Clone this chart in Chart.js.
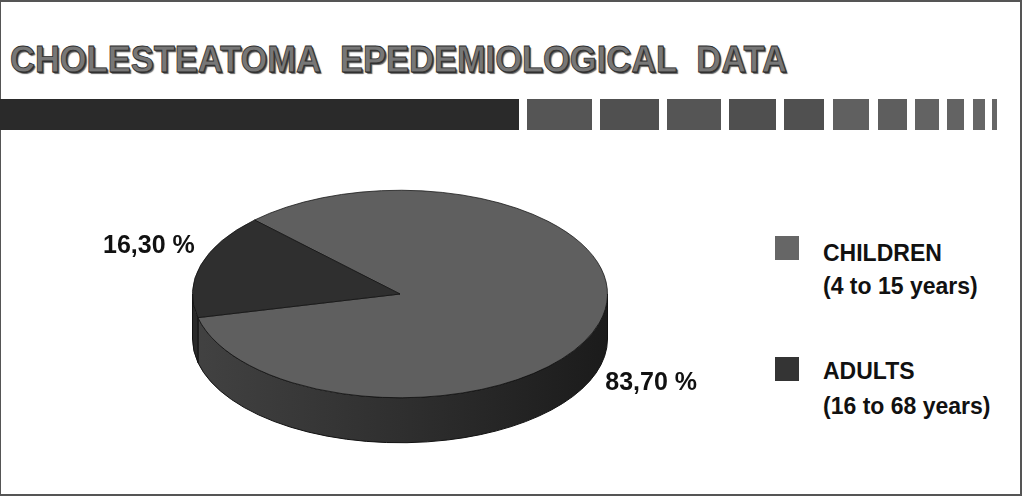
<!DOCTYPE html>
<html>
<head>
<meta charset="utf-8">
<script src="https://cdn.jsdelivr.net/npm/chart.js@4/dist/chart.umd.min.js"></script>
<style>
  body { margin: 0; background: #fff; font-family: "Liberation Sans", Arial, sans-serif; }
  #frame { position: absolute; left: 0; top: 0; width: 1022px; height: 496px; box-sizing: border-box;
           border: 2px solid #555; border-left-width: 1px; border-top-width: 2px; }
  #title { position: absolute; left: 10px; top: 41px; font-size: 37px; line-height: 37px; font-weight: bold;
           color: #777; white-space: nowrap; transform-origin: 0 0;
           -webkit-text-stroke: 0.8px #2e2e2e; text-shadow: 1px 1px 0 #333, 2px 2px 1px #666; }
  .bar { position: absolute; top: 99px; height: 31px; }
  .sw { position: absolute; left: 775px; width: 24px; height: 24px; }
  .lg { position: absolute; left: 823px; font-size: 23px; line-height: 23px; font-weight: bold; color: #111; white-space: nowrap; }
  canvas { position: absolute; left: 0; top: 0; }
</style>
</head>
<body>
<div id="frame"></div>
<div id="title">CHOLESTEATOMA&nbsp; EPEDEMIOLOGICAL&nbsp; DATA</div>
<div id="bars"></div>
<div id="legend"></div>
<canvas id="pie" width="1023" height="497"></canvas>
<script>
const categories = ['CHILDREN', 'ADULTS'];
const ageRanges = ['(4 to 15 years)', '(16 to 68 years)'];
const shares = [83.7, 16.3];
const topColors = ['#5f5f5f', '#2f2f2f'];
const keyColors = ['#666666', '#343434'];

// decorative strip under the title: [left, right, colour]
const barSegments = [
  [0, 519, '#2a2a2a'], [527, 592, '#555'], [600, 659, '#505050'], [667, 721, '#555'],
  [729, 776, '#4f4f4f'], [784, 824, '#505050'], [833, 869, '#606060'], [878, 907, '#5e5e5e'],
  [915, 939, '#636363'], [947, 964, '#636363'], [973, 985, '#666'], [992, 997, '#666']
];

const title = document.getElementById('title');
title.style.transform = 'scaleX(' + (777 / title.offsetWidth) + ')';

const bars = document.getElementById('bars');
barSegments.forEach(s => {
  const d = document.createElement('div');
  d.className = 'bar';
  d.style.left = s[0] + 'px';
  d.style.width = (s[1] - s[0]) + 'px';
  d.style.background = s[2];
  bars.appendChild(d);
});

const legend = document.getElementById('legend');
const swatchTops = [236, 357];
const lineTops = [[242, 275], [360, 395]];
categories.forEach((c, i) => {
  legend.insertAdjacentHTML('beforeend',
    '<div class="sw" style="top:' + swatchTops[i] + 'px;background:' + keyColors[i] + '"></div>' +
    '<div class="lg" style="top:' + lineTops[i][0] + 'px">' + c + '</div>' +
    '<div class="lg" style="top:' + lineTops[i][1] + 'px">' + ageRanges[i] + '</div>');
});

const tilt = 0.5;     // vertical squash of the pie
const depth = 45;     // thickness of the disc
const topY = 294;     // centre of the top face on screen

const pie3d = {
  id: 'pie3d',
  beforeDatasetsDraw(chart) {
    const ctx = chart.ctx;
    const arcs = chart.getDatasetMeta(0).data;
    const cx = arcs[0].x, r = arcs[0].outerRadius, ry = r * tilt;
    const grad = ctx.createLinearGradient(cx - r, 0, cx + r, 0);
    grad.addColorStop(0, '#424242');
    grad.addColorStop(0.5, '#2f2f2f');
    grad.addColorStop(1, '#1b1b1b');
    const sideFill = [grad, '#292929'];
    arcs.forEach((arc, i) => {
      for (let k = -2; k <= 2; k++) {
        const lo = Math.max(arc.startAngle, k * 2 * Math.PI);
        const hi = Math.min(arc.endAngle, k * 2 * Math.PI + Math.PI);
        if (hi <= lo) continue;
        ctx.beginPath();
        ctx.ellipse(cx, topY, r, ry, 0, lo, hi);
        ctx.lineTo(cx + r * Math.cos(hi), topY + depth + ry * Math.sin(hi));
        ctx.ellipse(cx, topY + depth, r, ry, 0, hi, lo, true);
        ctx.closePath();
        ctx.fillStyle = sideFill[i];
        ctx.fill();
        ctx.lineWidth = 1;
        ctx.strokeStyle = '#111';
        ctx.stroke();
      }
    });
    ctx.save();
    ctx.translate(cx, topY);
    ctx.scale(1, tilt);
    ctx.translate(-cx, -arcs[0].y);
  },
  afterDatasetsDraw(chart) {
    const ctx = chart.ctx;
    ctx.restore();
    const arcs = chart.getDatasetMeta(0).data;
    const cx = arcs[0].x, r = arcs[0].outerRadius, ry = r * tilt;
    ctx.font = 'bold 25px "Liberation Sans", Arial, sans-serif';
    ctx.fillStyle = '#111';
    ctx.textAlign = 'center';
    ctx.textBaseline = 'middle';
    arcs.forEach((arc, i) => {
      const mid = (arc.startAngle + arc.endAngle) / 2;
      const s = Math.sin(mid);
      const x = cx + r * 1.26 * Math.cos(mid);
      const y = topY + ry * 1.58 * s + (s > 0 ? depth : 0) - 2;
      const txt = shares[i].toFixed(2).replace('.', ',') + ' %';
      ctx.fillText(txt, x, y);
    });
  }
};

new Chart(document.getElementById('pie'), {
  type: 'pie',
  data: {
    labels: categories,
    datasets: [{
      data: shares,
      backgroundColor: topColors,
      borderColor: '#111',
      borderWidth: 1,
      clip: false
    }]
  },
  options: {
    responsive: false,
    devicePixelRatio: 1,
    animation: false,
    events: [],
    rotation: 315.5,
    layout: { padding: { left: 192, right: 415, top: 0, bottom: 81 } },
    plugins: { legend: { display: false }, tooltip: { enabled: false } }
  },
  plugins: [pie3d]
});
</script>
</body>
</html>
